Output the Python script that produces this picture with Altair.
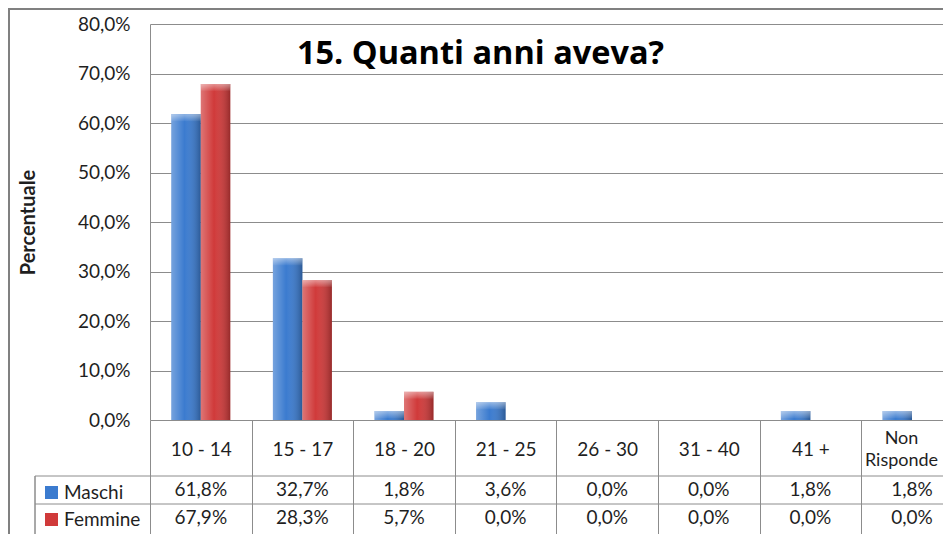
import altair as alt
import pandas as pd

# ---------------- data ----------------
categories = ["10 - 14", "15 - 17", "18 - 20", "21 - 25", "26 - 30", "31 - 40", "41 +", "Non Risponde"]
series_names = ["Maschi", "Femmine"]
maschi = [61.8, 32.7, 1.8, 3.6, 0.0, 0.0, 1.8, 1.8]
femmine = [67.9, 28.3, 5.7, 0.0, 0.0, 0.0, 0.0, 0.0]
y_tick_values = [0, 10, 20, 30, 40, 50, 60, 70, 80]
chart_title = "15. Quanti anni aveva?"
y_title = "Percentuale"

rows = []
for name, vals in zip(series_names, [maschi, femmine]):
    for cat, v in zip(categories, vals):
        rows.append({"cat": cat, "series": name, "pct": v})
df = pd.DataFrame(rows)

# ---------------- style ----------------
TXT = "#1f1f1f"
GRID = "#8c8c8c"
FONT = "Lato"
FS = 19
colors = ["#3B7BCF", "#D03A3A"]

xscale = alt.Scale(domain=categories, range=[0, 812.8], paddingInner=0, paddingOuter=0)
offscale = alt.Scale(domain=series_names, paddingInner=0, paddingOuter=0.722)
yscale = alt.Scale(domain=[0, 0.8])
row_scale = alt.Scale(type="band", domain=series_names, range=[452, 508], paddingInner=0, paddingOuter=0)

base = alt.Chart(df).transform_calculate(
    frac="datum.pct / 100",
    label="replace(format(datum.pct / 100, '.1%'), '.', ',')",
)

is_last = "datum.value == 'Non Risponde'"
x_axis = alt.Axis(
    title=None, labelAngle=0, domain=False, ticks=True, tickBand="extent",
    tickSize=127, tickColor=GRID, tickWidth=1,
    labelPadding={"condition": {"test": is_last, "value": -109}, "value": -98},
    labelOffset={"condition": {"test": is_last, "value": -11}, "value": 0},
    labelFontSize={"condition": {"test": is_last, "value": 18}, "value": FS},
    labelBaseline="middle", labelFont=FONT, labelColor=TXT,
    labelLineHeight=22, labelOverlap=False,
    labelExpr="datum.label == 'Non Risponde' ? ['Non', 'Risponde'] : datum.label",
)
x_enc = alt.X("cat:N", scale=xscale, sort=categories, axis=x_axis)
xoff = alt.XOffset("series:N", sort=series_names, scale=offscale)

bars = base.mark_bar().encode(
    x=x_enc,
    xOffset=xoff,
    y=alt.Y(
        "frac:Q", scale=yscale,
        axis=alt.Axis(
            values=[v / 100 for v in y_tick_values],
            labelExpr="replace(format(datum.value, '.1%'), '.', ',')",
            grid=True, gridColor=GRID, gridWidth=1, ticks=False,
            domain=True, domainColor=GRID, labelPadding=20,
            labelFont=FONT, labelFontSize=FS, labelColor=TXT,
            title=y_title, titleFont=FONT, titleFontSize=20, titleFontWeight="bold",
            titleColor=TXT, titlePadding=39,
        ),
    ),
    color=alt.Color(
        "series:N", scale=alt.Scale(domain=series_names, range=colors),
        legend=alt.Legend(
            orient="none", legendX=-108, legendY=459, title=None, direction="vertical",
            symbolType="square", symbolSize=169, symbolStrokeWidth=0,
            labelFont=FONT, labelFontSize=FS, labelColor=TXT, rowPadding=7,
            padding=0, labelOffset=3,
        ),
    ),
)

shade = base.mark_bar(
    fill=alt.Gradient(
        gradient="linear", x1=0, x2=1, y1=0, y2=0,
        stops=[
            alt.GradientStop(color="rgba(255,255,255,0.30)", offset=0),
            alt.GradientStop(color="rgba(255,255,255,0.0)", offset=0.45),
            alt.GradientStop(color="rgba(0,0,0,0.28)", offset=1),
        ],
    )
).encode(x=x_enc, xOffset=xoff, y=alt.Y("frac:Q", scale=yscale, axis=None))

cap = base.transform_filter("datum.pct > 0").mark_bar(
    y2Offset=7,
    fill=alt.Gradient(
        gradient="linear", x1=0, x2=0, y1=0, y2=1,
        stops=[
            alt.GradientStop(color="rgba(255,255,255,0.45)", offset=0),
            alt.GradientStop(color="rgba(255,255,255,0.05)", offset=1),
        ],
    ),
).encode(
    x=x_enc, xOffset=xoff,
    y=alt.Y("frac:Q", scale=yscale, axis=None),
    y2="frac:Q",
)

table_text = base.mark_text(font=FONT, fontSize=FS, color=TXT).encode(
    x=x_enc,
    y=alt.Y("series:N", scale=row_scale, axis=None),
    text="label:N",
)

rows_df = pd.DataFrame({"series": series_names})
table_hlines = alt.Chart(rows_df).mark_rule(color=GRID, strokeWidth=1).encode(
    y=alt.Y("series:N", scale=row_scale, axis=None, bandPosition=0),
    x=alt.value(-115), x2=alt.value(1000),
)
table_vline = alt.Chart(rows_df).mark_rule(color=GRID, strokeWidth=1).encode(
    x=alt.value(-115), y=alt.value(452), y2=alt.value(700),
)

one = pd.DataFrame({"t": [chart_title]})
border_top = alt.Chart(one).mark_rule(color="#808080", strokeWidth=2).encode(
    x=alt.value(-142), x2=alt.value(1200), y=alt.value(-15),
)
border_left = alt.Chart(one).mark_rule(color="#808080", strokeWidth=2).encode(
    x=alt.value(-141), y=alt.value(-16), y2=alt.value(900),
)
title = alt.Chart(one).mark_text(
    font="Open Sans", fontSize=32.5, fontWeight="bold", color="#000000",
    align="center", baseline="alphabetic",
).encode(text="t:N", x=alt.value(330.5), y=alt.value(40.3))

chart = alt.layer(
    border_top, border_left, bars, shade, cap, table_text, table_hlines, table_vline, title
).resolve_scale(y="independent").properties(
    width=793, height=396,
    padding={"left": 142, "top": 16, "right": 0, "bottom": 114},
    autosize=alt.AutoSizeParams(type="none"),
    background="white",
).configure_view(strokeWidth=0)

chart.save("out.html", embed_options={"renderer": "svg", "actions": False})
